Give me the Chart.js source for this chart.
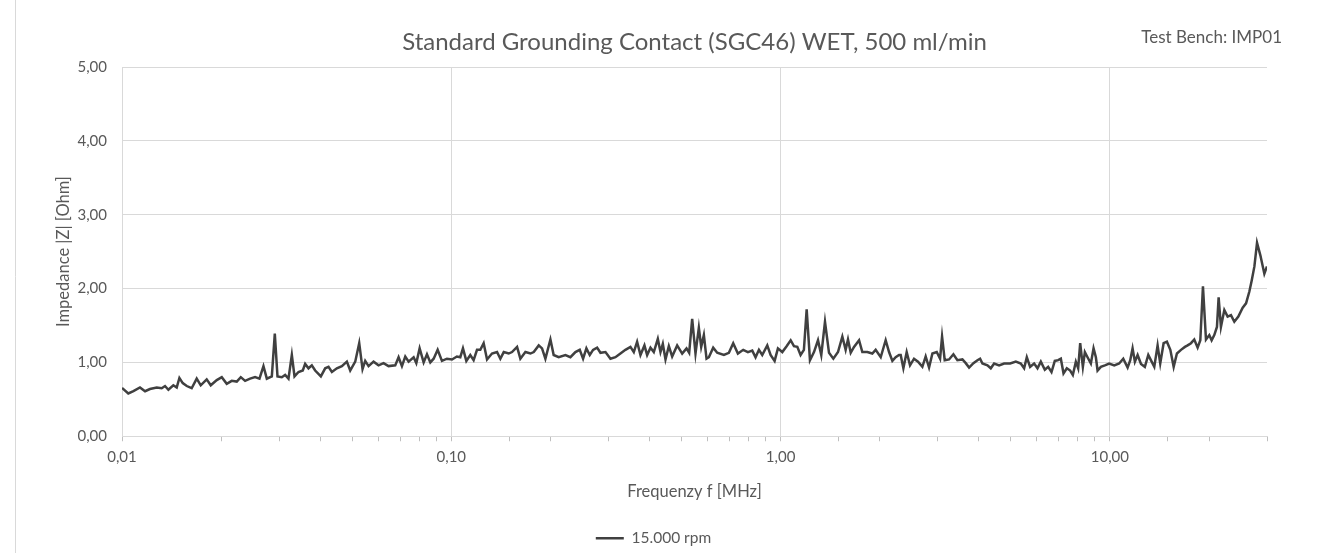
<!DOCTYPE html>
<html>
<head>
<meta charset="utf-8">
<script src="https://cdn.jsdelivr.net/npm/chart.js@4/dist/chart.umd.min.js"></script>
<style>
  html, body { margin: 0; padding: 0; background: #fff; }
  #wrap { width: 1322px; height: 553px; position: relative; }
</style>
</head>
<body>
<div id="wrap"><canvas id="impChart"></canvas></div>
<script>
// frequency [MHz]
const freqMHz = [
  0.0100, 0.01045, 0.01083, 0.01134, 0.01175, 0.01216, 0.01275, 0.0132, 0.01351, 0.01383,
  0.01432, 0.01466, 0.01494, 0.01529, 0.01573, 0.01628, 0.01686, 0.01734, 0.01808, 0.0186,
  0.0194, 0.02009, 0.0208, 0.02154, 0.02231, 0.02295, 0.02365, 0.02449, 0.02536, 0.02615,
  0.02689, 0.02753, 0.02851, 0.02911, 0.02966, 0.03057, 0.03129, 0.03203, 0.03279, 0.03341,
  0.03436, 0.0354, 0.03599, 0.03684, 0.03771, 0.0386, 0.04017, 0.0414, 0.04238, 0.04339,
  0.04493, 0.04653, 0.04818, 0.04932, 0.05108, 0.05253, 0.05376, 0.05477, 0.05607, 0.05806,
  0.06013, 0.06227, 0.06449, 0.06757, 0.06917, 0.07081, 0.07248, 0.0742, 0.07685, 0.0783,
  0.08014, 0.08242, 0.08436, 0.08636, 0.08839, 0.0909, 0.09367, 0.09701, 0.1005, 0.104,
  0.1065, 0.1085, 0.1111, 0.1142, 0.1169, 0.1197, 0.1225, 0.1254, 0.1284, 0.1329,
  0.1377, 0.1409, 0.1443, 0.1494,
  0.1529, 0.1584, 0.1621, 0.1679, 0.1739, 0.1780, 0.1843, 0.1886, 0.1931, 0.2000,
  0.2046, 0.2119, 0.2221, 0.2300, 0.2382, 0.2455, 0.2513, 0.2572, 0.2633, 0.2695,
  0.2772, 0.2838, 0.2939, 0.3043, 0.3151, 0.3263, 0.3379, 0.3500, 0.3583, 0.3667,
  0.3754, 0.3860, 0.3933, 0.4026, 0.4121, 0.4238, 0.4318, 0.4389, 0.4472, 0.4577,
  0.4685, 0.4852, 0.5025, 0.5180, 0.5277, 0.5389, 0.5516, 0.5646, 0.5740, 0.5848,
  0.5958, 0.6056, 0.6242, 0.6419, 0.6726, 0.6966, 0.7180, 0.7419, 0.7701, 0.7958,
  0.8203, 0.8395, 0.8594, 0.8796, 0.9110, 0.9324, 0.9590, 0.9815, 1.012, 1.043,
  1.073, 1.098, 1.124, 1.150, 1.177, 1.200, 1.228, 1.263, 1.299, 1.329,
  1.364, 1.403, 1.446, 1.494, 1.540, 1.576, 1.602, 1.633, 1.671, 1.731,
  1.771, 1.834, 1.899, 1.944, 2.014, 2.085, 2.135, 2.185, 2.236, 2.289,
  2.316, 2.360, 2.415, 2.472, 2.542, 2.614, 2.695, 2.758, 2.824, 2.891,
  2.980, 3.050, 3.093, 3.151, 3.248, 3.348, 3.443, 3.566, 3.650, 3.736,
  3.851, 3.961, 4.035,
  4.102, 4.248, 4.348, 4.451, 4.609, 4.773, 4.979, 5.180, 5.364, 5.490,
  5.594, 5.725, 5.888, 6.028, 6.170, 6.345, 6.495, 6.648, 6.804, 6.965,
  7.097, 7.231, 7.401, 7.575, 7.718, 7.882, 8.011, 8.125, 8.278, 8.395,
  8.553, 8.755, 8.921, 9.067, 9.174, 9.389, 9.656, 9.952, 10.31, 10.67,
  10.98, 11.32, 11.53, 11.72, 11.91, 12.14, 12.43, 12.77, 13.08, 13.32,
  13.64, 13.96, 14.22, 14.56, 14.90, 15.26, 15.62, 15.98, 16.44, 16.90,
  17.22, 17.63, 18.04, 18.47, 18.82, 19.17, 19.58, 20.04, 20.37, 20.75,
  21.14, 21.39, 21.74, 22.26, 22.78, 23.32, 23.87, 24.55, 25.31, 25.91,
  26.52, 26.96, 27.47, 27.98, 28.64, 29.45, 30.0,
];

// |Z| [Ohm] at 15.000 rpm
const impedanceOhm = [
  0.655, 0.58, 0.61, 0.66, 0.61, 0.64, 0.66, 0.65, 0.68, 0.63,
  0.69, 0.66, 0.79, 0.72, 0.68, 0.65, 0.78, 0.69, 0.77, 0.69,
  0.76, 0.80, 0.71, 0.75, 0.74, 0.80, 0.75, 0.78, 0.80, 0.78,
  0.95, 0.78, 0.81, 1.39, 0.81, 0.80, 0.83, 0.78, 1.10, 0.81,
  0.87, 0.89, 0.98, 0.92, 0.96, 0.89, 0.81, 0.92, 0.94, 0.87,
  0.92, 0.95, 1.01, 0.89, 1.01, 1.26, 0.91, 1.02, 0.95, 1.01,
  0.96, 0.99, 0.95, 0.96, 1.07, 0.95, 1.08, 1.01, 1.07, 0.99,
  1.19, 1.00, 1.11, 1.00, 1.05, 1.17, 1.02, 1.05, 1.04, 1.08,
  1.07, 1.19, 1.02, 1.10, 1.03, 1.17, 1.17, 1.26, 1.04, 1.12,
  1.14, 1.05, 1.14, 1.12,
  1.14, 1.21, 1.05, 1.14, 1.12, 1.14, 1.23, 1.19, 1.05, 1.31,
  1.10, 1.07, 1.10, 1.07, 1.14, 1.17, 1.05, 1.19, 1.10, 1.17,
  1.20, 1.13, 1.14, 1.05, 1.07, 1.12, 1.17, 1.21, 1.14, 1.28,
  1.10, 1.23, 1.10, 1.20, 1.14, 1.32, 1.14, 1.25, 1.04, 1.22,
  1.08, 1.23, 1.12, 1.19, 1.13, 1.59, 1.12, 1.47, 1.21, 1.37,
  1.05, 1.07, 1.20, 1.13, 1.10, 1.13, 1.26, 1.12, 1.17, 1.14,
  1.16, 1.07, 1.17, 1.10, 1.23, 1.10, 1.02, 1.19, 1.14, 1.22,
  1.30, 1.22, 1.21, 1.10, 1.17, 1.72, 1.03, 1.14, 1.30, 1.10,
  1.55, 1.13, 1.05, 1.14, 1.35, 1.17, 1.31, 1.13, 1.21, 1.30,
  1.14, 1.14, 1.12, 1.17, 1.07, 1.30, 1.14, 1.02, 1.07, 1.10,
  1.10, 0.92, 1.14, 0.96, 1.05, 1.01, 0.94, 1.08, 0.93, 1.12,
  1.14, 1.05, 1.35, 1.03, 1.04, 1.11, 1.03, 1.04, 0.99, 0.93,
  0.99, 1.03, 1.05,
  0.985, 0.96, 0.92, 0.985, 0.96, 0.985, 0.985, 1.01, 0.985, 0.92,
  1.07, 0.94, 0.985, 0.92, 1.01, 0.90, 0.94, 0.87, 1.02, 1.03,
  1.05, 0.85, 0.92, 0.89, 0.83, 1.01, 0.92, 1.26, 0.94, 1.14,
  1.07, 0.985, 1.19, 1.07, 0.89, 0.94, 0.96, 0.985, 0.96, 0.985,
  1.05, 0.93, 1.03, 1.19, 1.01, 1.10, 0.98, 0.94, 1.10, 1.03,
  0.94, 1.23, 0.985, 1.26, 1.28, 1.17, 0.94, 1.12, 1.17, 1.21,
  1.23, 1.26, 1.31, 1.20, 1.30, 2.03, 1.31, 1.37, 1.30, 1.37,
  1.48, 1.88, 1.48, 1.71, 1.62, 1.64, 1.55, 1.62, 1.74, 1.80,
  1.96, 2.11, 2.30, 2.62, 2.45, 2.20, 2.30,
];

const seriesName = "15.000 rpm";
const xMajorTicks = [0.01, 0.1, 1, 10];
const xMajorLabels = ["0,01", "0,10", "1,00", "10,00"];
const yTickValues = [0, 1, 2, 3, 4, 5];
const yTickLabels = ["0,00", "1,00", "2,00", "3,00", "4,00", "5,00"];

const GRID = "#d9d9d9";
const TEXT = "#595959";

Chart.defaults.font.family = "Lato, 'Open Sans', sans-serif";
Chart.defaults.color = TEXT;

const majorIndex = (v) => xMajorTicks.findIndex((m) => Math.abs(Math.log10(v) - Math.log10(m)) < 1e-6);

const chartFrame = {
  id: "chartFrame",
  beforeDraw(chart) {
    const { ctx } = chart;
    ctx.save();
    ctx.fillStyle = "#fff";
    ctx.fillRect(0, 0, chart.width, chart.height);
    ctx.strokeStyle = GRID;
    ctx.lineWidth = 1;
    ctx.beginPath();
    ctx.moveTo(15.5, 0);
    ctx.lineTo(15.5, chart.height);
    ctx.stroke();
    ctx.restore();
  },
  afterDraw(chart) {
    const { ctx } = chart;
    ctx.save();
    ctx.font = "17px Lato";
    ctx.fillStyle = TEXT;
    ctx.textAlign = "right";
    ctx.textBaseline = "middle";
    ctx.fillText("Test Bench: IMP01", 1282, 38);
    ctx.restore();
  },
};

const points = freqMHz.map((f, i) => ({ x: f, y: impedanceOhm[i] }));

new Chart(document.getElementById("impChart"), {
  type: "line",
  data: {
    datasets: [
      {
        label: seriesName,
        data: points,
        borderColor: "#404040",
        backgroundColor: "#404040",
        borderWidth: 2.5,
        pointRadius: 0,
        tension: 0,
      },
    ],
  },
  options: {
    responsive: true,
    maintainAspectRatio: false,
    animation: false,
    layout: { padding: { top: 20, left: 40, right: 55, bottom: -3 } },
    plugins: {
      title: {
        display: true,
        fullSize: false,
        text: "Standard Grounding Contact (SGC46) WET, 500 ml/min",
        color: TEXT,
        font: { size: 24, weight: "normal" },
        padding: { top: 7.6, bottom: 10.6 },
      },
      legend: {
        position: "bottom",
        labels: {
          usePointStyle: true,
          pointStyle: "line",
          pointStyleWidth: 28,
          color: TEXT,
          font: { size: 15.5 },
          padding: 6,
        },
      },
      tooltip: { enabled: false },
    },
    scales: {
      x: {
        type: "logarithmic",
        min: 0.01,
        max: 30,
        grid: {
          color: (c) => (c.tick && majorIndex(c.tick.value) >= 0 ? GRID : "rgba(0,0,0,0)"),
          tickColor: "#bfbfbf",
          tickLength: 5,
        },
        border: { color: GRID },
        ticks: {
          autoSkip: false,
          maxRotation: 0,
          padding: 7,
          font: { size: 15 },
          callback: (v) => {
            const i = majorIndex(v);
            return i >= 0 ? xMajorLabels[i] : "";
          },
        },
        title: {
          display: true,
          text: "Frequenzy f [MHz]",
          color: TEXT,
          font: { size: 16.5 },
          padding: { top: 4, bottom: 23 },
        },
        afterFit: (scale) => { scale.height = 88.25; },
      },
      y: {
        min: 0,
        max: 5,
        afterBuildTicks: (scale) => { scale.ticks = yTickValues.map((v) => ({ value: v })); },
        grid: { color: GRID, drawTicks: false },
        border: { color: GRID },
        ticks: {
          padding: 15,
          font: { size: 15 },
          callback: (v) => yTickLabels[yTickValues.indexOf(v)],
        },
        title: {
          display: true,
          text: "Impedance |Z| [Ohm]",
          color: TEXT,
          font: { size: 16.5 },
          padding: { top: 14, bottom: 4 },
        },
        afterFit: (scale) => { scale.width = 82; },
      },
    },
  },
  plugins: [chartFrame],
});
</script>
</body>
</html>
